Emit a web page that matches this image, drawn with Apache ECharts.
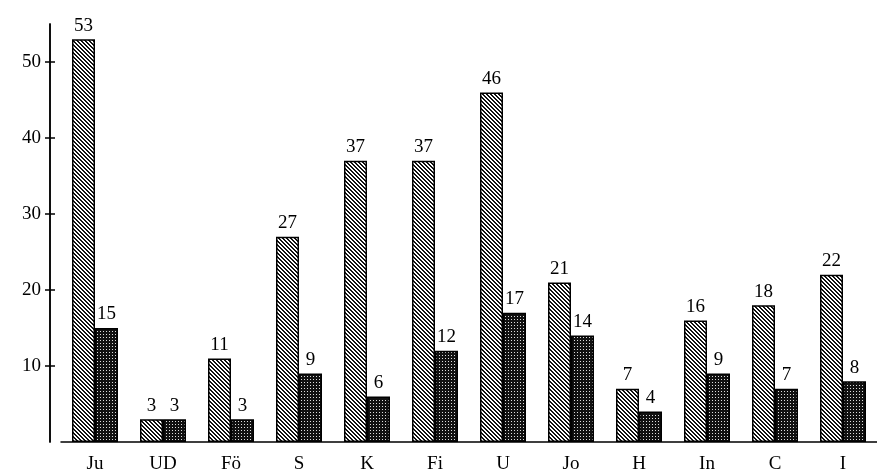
<!DOCTYPE html>
<html>
<head>
<meta charset="utf-8">
<script src="https://cdn.jsdelivr.net/npm/echarts@6/dist/echarts.min.js"></script>
<style>
html,body{margin:0;padding:0;background:#fff;}
#main{width:877px;height:474px;}
</style>
</head>
<body>
<div id="main"></div>
<script>
// 类别与数值
var categories = ['Ju', 'UD', 'Fö', 'S', 'K', 'Fi', 'U', 'Jo', 'H', 'In', 'C', 'I'];
var lightValues = [53, 3, 11, 27, 37, 37, 46, 21, 7, 16, 18, 22];
var darkValues = [15, 3, 3, 9, 6, 12, 17, 14, 4, 9, 7, 8];
var yTicks = [10, 20, 30, 40, 50];

// 斜线填充
function makeHatch() {
	var c = document.createElement('canvas');
	c.width = 4; c.height = 4;
	var ctx = c.getContext('2d');
	ctx.fillStyle = '#fff';
	ctx.fillRect(0, 0, 4, 4);
	ctx.fillStyle = '#111';
	for (var i = 0; i < 4; i++) {
		ctx.fillRect(i, i, 1, 1);
		ctx.fillRect((i + 1) % 4, i, 1, 1);
	}
	return c;
}
// 网点填充
function makeDots() {
	var c = document.createElement('canvas');
	c.width = 3; c.height = 3;
	var ctx = c.getContext('2d');
	ctx.fillStyle = '#111';
	ctx.fillRect(0, 0, 3, 3);
	ctx.fillStyle = '#ddd';
	ctx.fillRect(1, 1, 1, 1);
	return c;
}

var font = 'Liberation Serif';
var myChart = echarts.init(document.getElementById('main'));
var option = {
	backgroundColor : '#ffffff',
	animation : false,
	grid : {
		left : 61,
		right : 0,
		top : 24,
		bottom : 32
	},
	xAxis : {
		type : 'category',
		data : categories,
		axisLine : {
			lineStyle : { color : '#000', width : 1.5 }
		},
		axisTick : { show : false },
		axisLabel : {
			color : '#000',
			fontFamily : font,
			fontSize : 19,
			margin : 13
		}
	},
	yAxis : [ {
		type : 'value',
		min : 0,
		max : 55,
		offset : 11,
		axisLine : {
			show : true,
			lineStyle : { color : '#000', width : 1.5 }
		},
		axisTick : {
			show : true,
			length : 5,
			customValues : yTicks,
			lineStyle : { color : '#000', width : 1.5 }
		},
		splitLine : { show : false },
		axisLabel : {
			color : '#000',
			fontFamily : font,
			fontSize : 19,
			margin : 9,
			customValues : yTicks
		}
	}, {
		type : 'value',
		position : 'left',
		min : 0,
		max : 55,
		offset : 11,
		axisLine : {
			show : true,
			lineStyle : { color : '#000', width : 1.5 }
		},
		axisTick : {
			show : true,
			inside : true,
			length : 5,
			customValues : yTicks,
			lineStyle : { color : '#000', width : 1.5 }
		},
		splitLine : { show : false },
		axisLabel : { show : false }
	} ],
	series : [ {
		type : 'bar',
		data : lightValues,
		barWidth : 23,
		barGap : '0%',
		itemStyle : {
			color : { image : makeHatch(), repeat : 'repeat' },
			borderColor : '#000',
			borderWidth : 1.5
		},
		label : {
			show : true,
			position : 'top',
			distance : 4,
			color : '#000',
			fontFamily : font,
			fontSize : 19
		}
	}, {
		type : 'bar',
		data : darkValues,
		barWidth : 23,
		itemStyle : {
			color : { image : makeDots(), repeat : 'repeat' },
			borderColor : '#000',
			borderWidth : 1.5
		},
		label : {
			show : true,
			position : 'top',
			distance : 4,
			color : '#000',
			fontFamily : font,
			fontSize : 19
		}
	} ]
};
myChart.setOption(option);
</script>
</body>
</html>
